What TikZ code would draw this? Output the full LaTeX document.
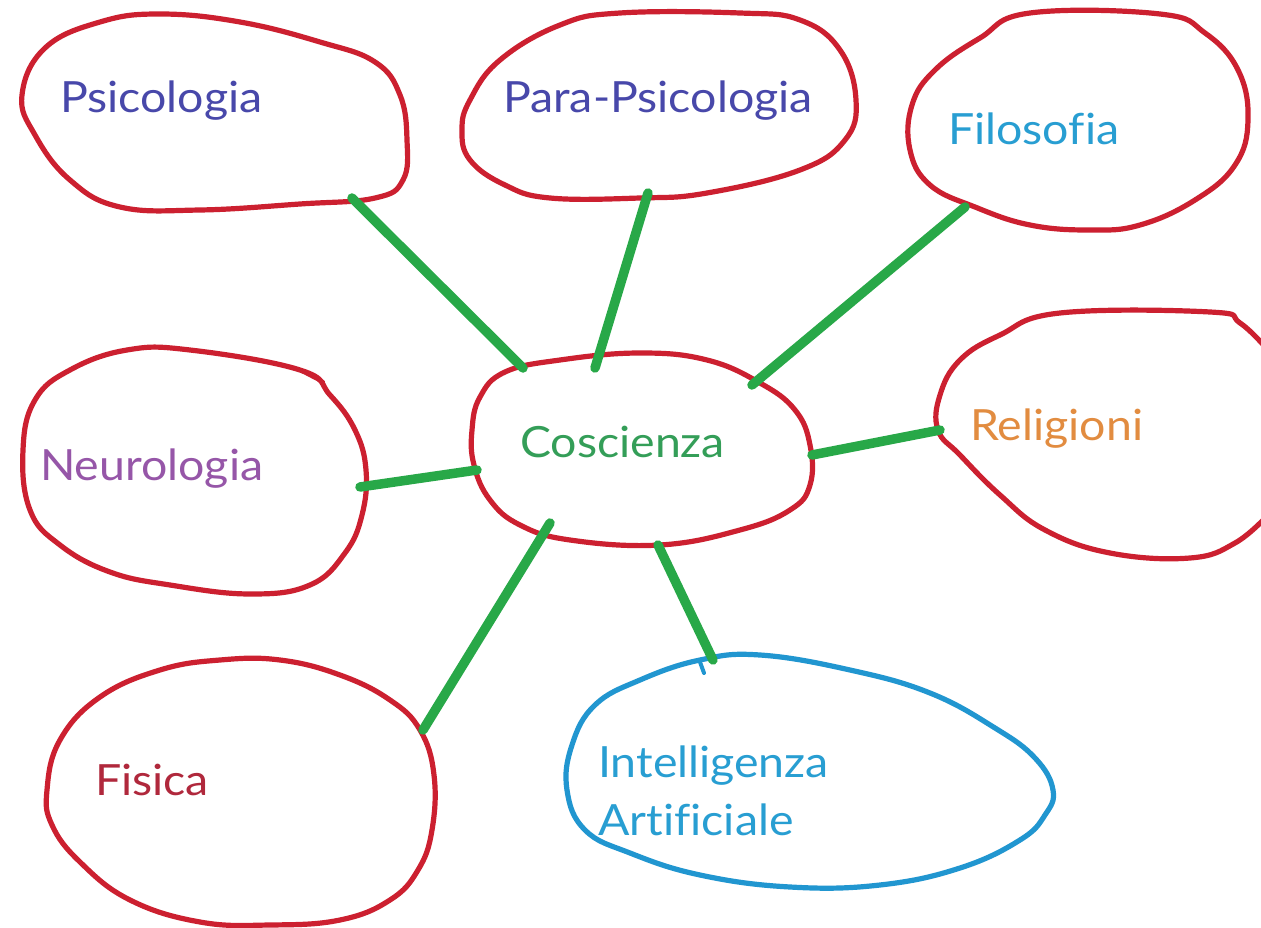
\documentclass[tikz,border=0pt]{standalone}
\usepackage{fontspec}
\setmainfont[Ligatures={NoCommon},FakeStretch=1.08]{Lato}
\definecolor{outred}{RGB}{204,32,48}
\definecolor{outblue}{RGB}{33,150,208}
\definecolor{linkgreen}{RGB}{40,168,72}
\definecolor{txtindigo}{RGB}{72,72,170}
\definecolor{txtsky}{RGB}{40,158,210}
\definecolor{txtorange}{RGB}{226,140,64}
\definecolor{txtpurple}{RGB}{150,86,168}
\definecolor{txtgreen}{RGB}{52,158,88}
\definecolor{txtred}{RGB}{176,40,60}
\begin{document}
\begin{tikzpicture}[x=1pt,y=-1pt,
  bubble/.style={draw=outred,line width=5.2pt,line join=round,line cap=round},
  bubbleblue/.style={draw=outblue,line width=5.2pt,line join=round,line cap=round},
  link/.style={draw=linkgreen,line width=9.5pt,line cap=round},
  lbl/.style={anchor=base west,inner sep=0pt,font=\fontsize{43}{52}\selectfont}]
\useasboundingbox (0,0) rectangle (1261,928);
\fill[white] (0,0) rectangle (1261,928);

% outlines
\draw[bubble] plot[smooth cycle,tension=0.7] coordinates {(22,95) (45,48) (100,22) (160,14) (240,22) (320,42) (375,62) (400,95) (407,140) (403,180) (375,198) (300,204) (200,210) (120,207) (70,180) (35,135)};
\draw[bubble] plot[smooth cycle,tension=0.7] coordinates {(470,100) (500,60) (560,25) (620,13) (740,13) (800,20) (840,50) (856,100) (845,140) (800,170) (707,193) (640,198) (550,198) (505,185) (470,160) (462,130)};
\draw[bubble] plot[smooth cycle,tension=0.7] coordinates {(912,105) (935,70) (980,38) (1030,13) (1160,14) (1205,33) (1238,70) (1248,120) (1235,165) (1195,200) (1140,225) (1090,230) (1030,225) (975,207) (930,185) (910,150)};
\draw[bubble] plot[smooth,tension=0.7] coordinates {(1268,350) (1240,323) (1210,312) (1060,313) (1000,335) (960,360) (940,395) (938,430) (960,455) (1000,495) (1045,530) (1110,553) (1190,558) (1235,543) (1268,515)};
\draw[bubble] plot[smooth cycle,tension=0.7] coordinates {(23,450) (35,400) (70,370) (127,350) (190,350) (300,370) (330,395) (355,430) (366,470) (362,515) (345,553) (310,585) (250,594) (170,585) (110,572) (60,545) (30,510)};
\draw[outred,line width=4pt,line cap=round] (300,370) -- (323,382);
\draw[bubble] plot[smooth cycle,tension=0.7] coordinates {(480,397) (505,372) (560,360) (640,353) (707,360) (760,383) (795,410) (810,445) (810,485) (790,510) (740,530) (660,545) (570,540) (520,525) (490,500) (474,465) (472,430)};
\draw[bubble] plot[smooth cycle,tension=0.7] coordinates {(47,790) (60,740) (100,697) (160,670) (220,660) (280,660) (340,675) (390,700) (420,730) (434,775) (432,830) (418,870) (390,900) (340,920) (270,925) (200,922) (130,900) (80,862) (52,825)};
\draw[bubbleblue] plot[smooth cycle,tension=0.7] coordinates {(567,790) (572,745) (595,705) (640,680) (700,660) (760,655) (850,670) (930,693) (995,728) (1035,758) (1053,790) (1045,815) (1020,840) (960,868) (880,885) (790,887) (700,875) (630,853) (585,830)};
\draw[outblue,line width=4pt,line cap=round] (700,662) -- (704,673);

% labels
\node[lbl,text=txtindigo] (psi) at (60,113) {Psicologia};
\node[lbl,text=txtindigo] (para) at (503,113) {Para-Psicologia};
\node[lbl,text=txtsky] (filo) at (948,145) {Filosofia};
\node[lbl,text=txtorange] (reli) at (970,440) {Religioni};
\node[lbl,text=txtpurple] (neuro) at (40,480) {Neurologia};
\node[lbl,text=txtgreen] (cosc) at (520,457) {Coscienza};
\node[lbl,text=txtred] (fis) at (95,795) {Fisica};
\node[lbl,text=txtsky] (ia) at (598,777) {Intelligenza};
\node[lbl,text=txtsky] (ia2) at (598,835) {Artificiale};

% connector end points on the outlines
\coordinate (psiE) at (352,198);
\coordinate (paraE) at (648,193);
\coordinate (filoE) at (965,207);
\coordinate (reliE) at (940,430);
\coordinate (neuroE) at (360,487);
\coordinate (fisE) at (423,730);
\coordinate (iaE) at (713,660);
\coordinate (cPsi) at (523,368);
\coordinate (cPara) at (595,368);
\coordinate (cFilo) at (752,385);
\coordinate (cReli) at (812,455);
\coordinate (cNeuro) at (477,470);
\coordinate (cFis) at (550,523);
\coordinate (cIa) at (658,545);

\draw[link] (psiE) -- (cPsi);
\draw[link] (paraE) -- (cPara);
\draw[link] (filoE) -- (cFilo);
\draw[link] (reliE) -- (cReli);
\draw[link] (neuroE) -- (cNeuro);
\draw[link] (fisE) -- (cFis);
\draw[link] (iaE) -- (cIa);
\end{tikzpicture}
\end{document}
